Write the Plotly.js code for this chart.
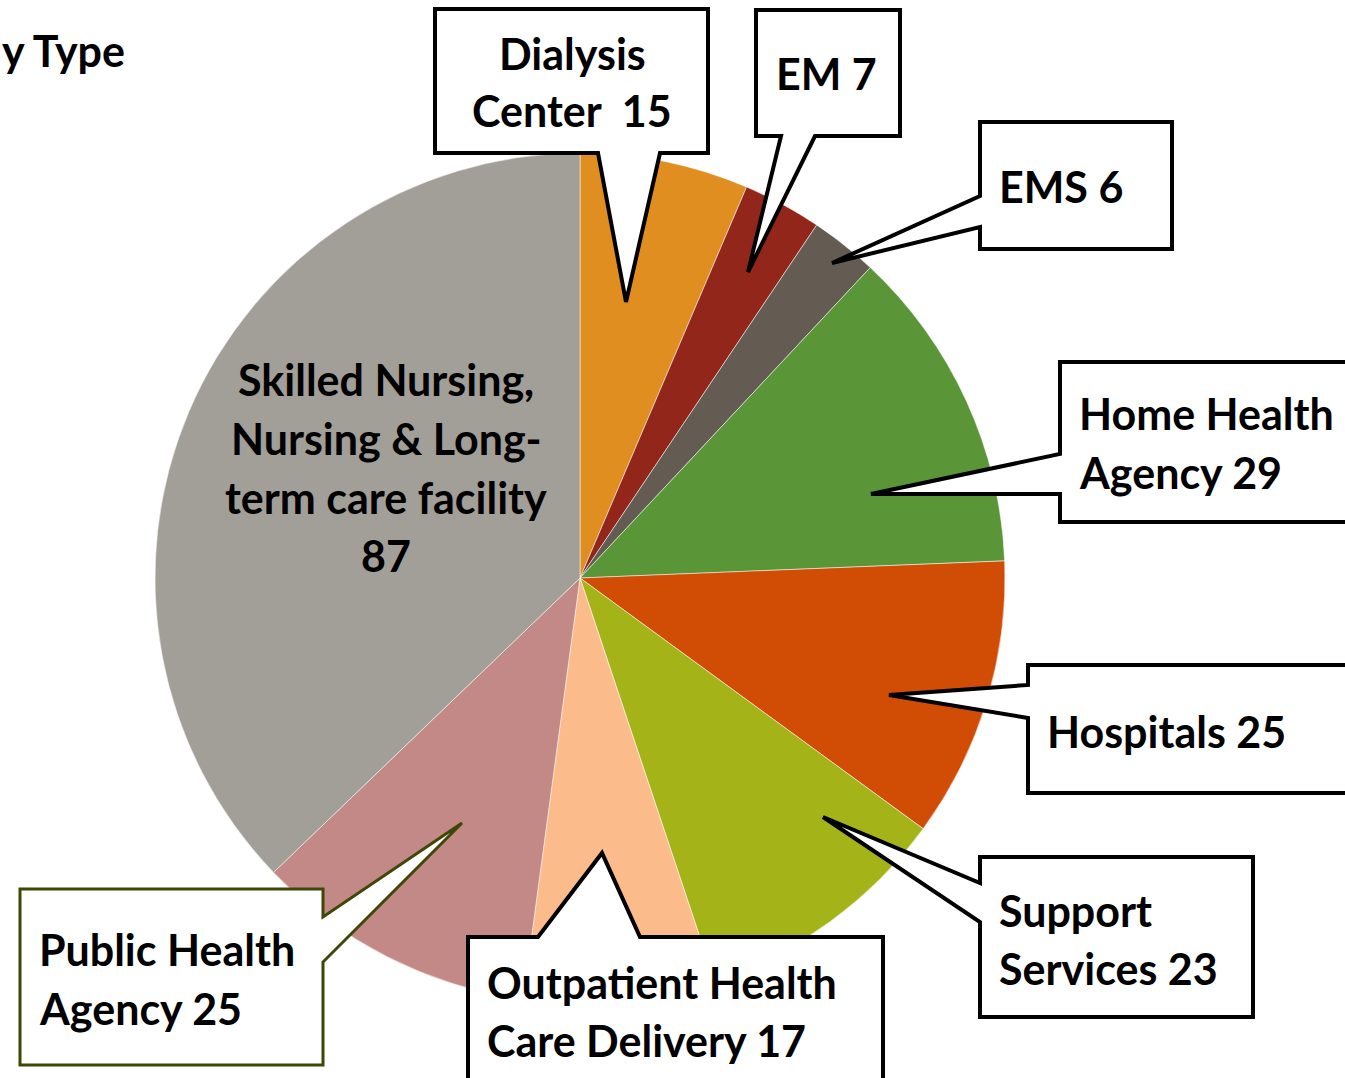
<!DOCTYPE html>
<html>
<head>
<meta charset="utf-8">
<script src="https://cdn.plot.ly/plotly-3.0.1.min.js"></script>
<style>html,body{margin:0;padding:0;background:#fff;}#chart{width:1345px;height:1078px;}</style>
</head>
<body>
<div id="chart"></div>
<script>
// ---- data ----
const categories = ["Dialysis Center", "EM", "EMS", "Home Health Agency", "Hospitals",
  "Support Services", "Outpatient Health Care Delivery", "Public Health Agency",
  "Skilled Nursing, Nursing & Long-term care facility"];
const values = [15, 7, 6, 29, 25, 23, 17, 25, 87];
const sliceColors = ["#E08E1F", "#93261A", "#645C52", "#5A9637", "#D14D05",
  "#A4B418", "#FBBB8B", "#C38986", "#A29E98"];
const labelLines = [
  ["Dialysis", "Center  15"],
  ["EM 7"],
  ["EMS 6"],
  ["Home Health", "Agency 29"],
  ["Hospitals 25"],
  ["Support", "Services 23"],
  ["Outpatient Health", "Care Delivery 17"],
  ["Public Health", "Agency 25"],
  ["Skilled Nursing,", "Nursing & Long-", "term care facility", "87"]
];
const titleText = "y Type";

// ---- layout helpers (pixel positions of callouts) ----
const W = 1345, H = 1078;
const px = x => x / W, py = y => 1 - y / H;

const callouts = [
  {poly: [[435,9],[708,9],[708,153],[660,153],[626,302],[598,153],[435,153]], tx: 572, anchor: "center", ys: [53,111]},
  {poly: [[756,10],[900,10],[900,136],[815,136],[748,272],[781,136],[756,136]], tx: 826, anchor: "center", ys: [74]},
  {poly: [[980,122],[1172,122],[1172,249],[980,249],[980,227],[832,263],[980,196]], tx: 997, anchor: "left", ys: [186]},
  {poly: [[1060,362],[1365,362],[1365,522],[1060,522],[1060,494],[871,494],[1060,454]], tx: 1077, anchor: "left", ys: [414,472]},
  {poly: [[1028,665],[1365,665],[1365,793],[1028,793],[1028,718],[889,695],[1028,685]], tx: 1045, anchor: "left", ys: [731]},
  {poly: [[980,857],[1253,857],[1253,1017],[980,1017],[980,922],[823,817],[980,883]], tx: 997, anchor: "left", ys: [910,968]},
  {poly: [[468,937],[538,937],[602,853],[640,937],[883,937],[883,1095],[468,1095]], tx: 485, anchor: "left", ys: [982,1040]},
  {poly: [[20,889],[323,889],[323,917],[462,823],[323,962],[323,1065],[20,1065]], tx: 37, anchor: "left", ys: [949,1008], line: "#3F4708", width: 3},
  {poly: null, tx: 386, anchor: "center", ys: [380,438,497,555]}
];

const FONT = {family: "Lato, 'Open Sans', sans-serif", size: 43, color: "#000", weight: "bold"};

const shapes = [];
const annotations = [];
callouts.forEach((c, i) => {
  if (c.poly) {
    const d = c.poly.map((p, k) => (k ? "L" : "M") + px(p[0]).toFixed(5) + "," + py(p[1]).toFixed(5)).join(" ") + " Z";
    shapes.push({type: "path", xref: "paper", yref: "paper", path: d,
      fillcolor: "#ffffff", line: {color: c.line || "#000000", width: c.width || 4}, layer: "above"});
  }
  labelLines[i].forEach((t, k) => {
    annotations.push({xref: "paper", yref: "paper", x: px(c.tx), y: py(c.ys[k]),
      xanchor: c.anchor, yanchor: "middle", showarrow: false, text: t, font: FONT});
  });
});
annotations.push({xref: "paper", yref: "paper", x: px(0), y: py(50), xanchor: "left", yanchor: "middle",
  showarrow: false, text: titleText, font: FONT});

const trace = {
  type: "pie",
  labels: categories,
  values: values,
  sort: false,
  direction: "clockwise",
  rotation: 0,
  textinfo: "none",
  hoverinfo: "label+value",
  marker: {colors: sliceColors, line: {color: "rgba(255,255,255,0.5)", width: 1}},
  domain: {x: [px(155), px(1005)], y: [py(1003), py(153)]},
  showlegend: false
};

const layout = {
  width: W, height: H,
  margin: {l: 0, r: 0, t: 0, b: 0},
  paper_bgcolor: "#ffffff",
  showlegend: false,
  shapes: shapes,
  annotations: annotations
};

Plotly.newPlot("chart", [trace], layout, {displayModeBar: false, staticPlot: true});
</script>
</body>
</html>
